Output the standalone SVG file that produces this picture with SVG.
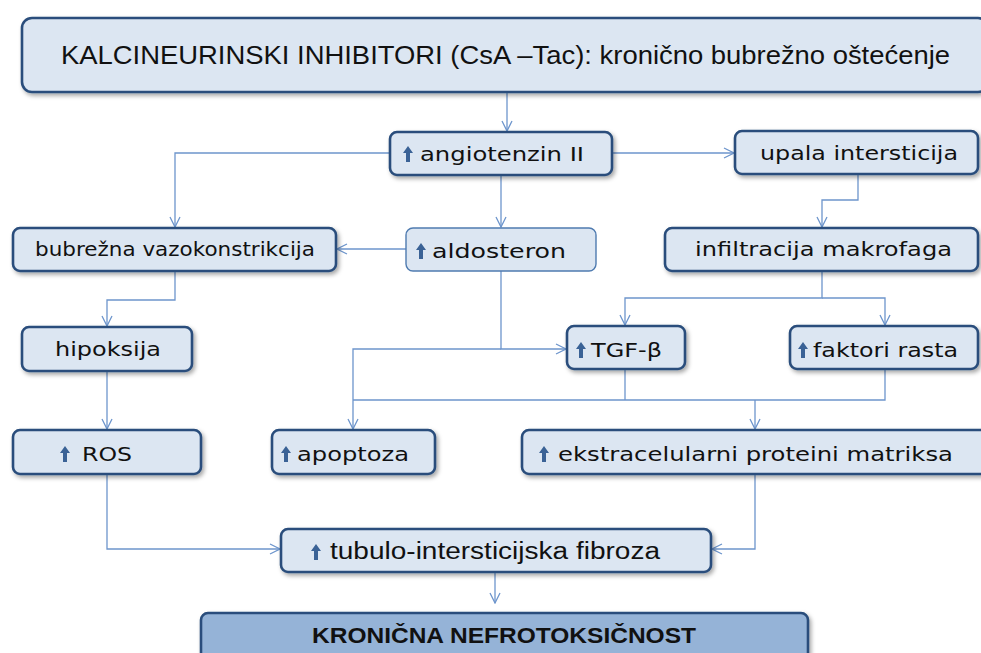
<svg xmlns="http://www.w3.org/2000/svg" width="981" height="653" viewBox="0 0 981 653">
<defs>
<style>
.box{fill:#dce6f2;stroke:#2a4e7c;stroke-width:2.6}
.box2{fill:#dce6f2;stroke:#4f7bb0;stroke-width:1.4}
.dark{fill:#95b3d7;stroke:#2a4e7c;stroke-width:2.6}
.t{font-family:"DejaVu Sans",Verdana,sans-serif;font-size:20px;fill:#111}
.c{font-family:"Liberation Sans",Arial,sans-serif;fill:#111}
.up{fill:#3a6296}
.ln{fill:none;stroke:#6d95cc;stroke-width:1.3}
</style>
<filter id="sh" x="-10%" y="-20%" width="125%" height="150%">
<feDropShadow dx="2" dy="2.5" stdDeviation="2.2" flood-color="#000" flood-opacity="0.35"/>
</filter>
<marker id="ar" viewBox="0 0 12 12" refX="11" refY="6" markerWidth="12" markerHeight="12" markerUnits="userSpaceOnUse" orient="auto">
<path d="M1,1 L11,6 L1,11" fill="none" stroke="#6d95cc" stroke-width="1.3"/>
</marker>
<polygon id="upa" points="0,-16 5,-9 2,-9 2,0 -2,0 -2,-9 -5,-9"/>
</defs>
<rect width="981" height="653" fill="#fff"/>

<g id="connectors">
<path class="ln" d="M507,92 V131" marker-end="url(#ar)"/>
<path class="ln" d="M612,153 H734" marker-end="url(#ar)"/>
<path class="ln" d="M390,153 H175 V227" marker-end="url(#ar)"/>
<path class="ln" d="M501,175 V227" marker-end="url(#ar)"/>
<path class="ln" d="M406,249 H337" marker-end="url(#ar)"/>
<path class="ln" d="M858,174 V200 H822 V227" marker-end="url(#ar)"/>
<path class="ln" d="M822,271 V298 H625 V325" marker-end="url(#ar)"/>
<path class="ln" d="M822,298 H885 V325" marker-end="url(#ar)"/>
<path class="ln" d="M175,271 V300 H107 V326" marker-end="url(#ar)"/>
<path class="ln" d="M107,371 V429" marker-end="url(#ar)"/>
<path class="ln" d="M501,271 V349 H566" marker-end="url(#ar)"/>
<path class="ln" d="M501,349 H353 V429" marker-end="url(#ar)"/>
<path class="ln" d="M353,400 H885 V369"/>
<path class="ln" d="M625,369 V400"/>
<path class="ln" d="M755,400 V429" marker-end="url(#ar)"/>
<path class="ln" d="M107,474 V549 H280" marker-end="url(#ar)"/>
<path class="ln" d="M755,474 V549 H712" marker-end="url(#ar)"/>
<path class="ln" d="M495,572 V603" marker-end="url(#ar)"/>
</g>

<g id="n-kalcineurin">
<rect class="box" x="22" y="18" width="966" height="74" rx="10" filter="url(#sh)"/>
<text class="c" x="61" y="64" font-size="25" textLength="889" lengthAdjust="spacingAndGlyphs">KALCINEURINSKI INHIBITORI (CsA –Tac): kronično bubrežno oštećenje</text>
</g>

<g id="n-angiotenzin">
<rect class="box" x="390" y="132" width="222" height="43" rx="7" filter="url(#sh)"/>
<use href="#upa" class="up" x="408" y="162"/>
<text class="t" x="420" y="161" font-size="21" textLength="164" lengthAdjust="spacingAndGlyphs">angiotenzin II</text>
</g>

<g id="n-upala">
<rect class="box" x="735" y="131" width="243" height="43" rx="7" filter="url(#sh)"/>
<text class="t" x="760" y="160" font-size="21" textLength="198" lengthAdjust="spacingAndGlyphs">upala intersticija</text>
</g>

<g id="n-vazokonstrikcija">
<rect class="box" x="13" y="228" width="323" height="43" rx="7" filter="url(#sh)"/>
<text class="t" x="35" y="256" textLength="280" lengthAdjust="spacingAndGlyphs">bubrežna vazokonstrikcija</text>
</g>

<g id="n-aldosteron">
<rect class="box2" x="406" y="228" width="190" height="43" rx="7"/>
<use href="#upa" class="up" x="421" y="259"/>
<text class="t" x="432" y="258" font-size="21" textLength="134" lengthAdjust="spacingAndGlyphs">aldosteron</text>
</g>

<g id="n-infiltracija">
<rect class="box" x="665" y="228" width="313" height="43" rx="7" filter="url(#sh)"/>
<text class="t" x="695" y="256" font-size="21" textLength="257" lengthAdjust="spacingAndGlyphs">infiltracija makrofaga</text>
</g>

<g id="n-hipoksija">
<rect class="box" x="22" y="327" width="170" height="44" rx="7" filter="url(#sh)"/>
<text class="t" x="55" y="356" textLength="106" lengthAdjust="spacingAndGlyphs">hipoksija</text>
</g>

<g id="n-tgf">
<rect class="box" x="567" y="326" width="118" height="43" rx="7" filter="url(#sh)"/>
<use href="#upa" class="up" x="581" y="358"/>
<text class="t" x="591" y="357" font-size="21" textLength="71" lengthAdjust="spacingAndGlyphs">TGF-β</text>
</g>

<g id="n-faktori">
<rect class="box" x="790" y="326" width="188" height="43" rx="7" filter="url(#sh)"/>
<use href="#upa" class="up" x="803" y="358"/>
<text class="t" x="813" y="357" font-size="21" textLength="145" lengthAdjust="spacingAndGlyphs">faktori rasta</text>
</g>

<g id="n-ros">
<rect class="box" x="13" y="430" width="188" height="44" rx="7" filter="url(#sh)"/>
<use href="#upa" class="up" x="65" y="462"/>
<text class="t" x="82" y="461" font-size="21" textLength="50" lengthAdjust="spacingAndGlyphs">ROS</text>
</g>

<g id="n-apoptoza">
<rect class="box" x="272" y="430" width="163" height="44" rx="7" filter="url(#sh)"/>
<use href="#upa" class="up" x="286" y="462"/>
<text class="t" x="297" y="461" font-size="21" textLength="112" lengthAdjust="spacingAndGlyphs">apoptoza</text>
</g>

<g id="n-ekstracelularni">
<rect class="box" x="522" y="430" width="466" height="44" rx="7" filter="url(#sh)"/>
<use href="#upa" class="up" x="544" y="462"/>
<text class="t" x="558" y="461" font-size="21" textLength="395" lengthAdjust="spacingAndGlyphs">ekstracelularni proteini matriksa</text>
</g>

<g id="n-fibroza">
<rect class="box" x="281" y="529" width="430" height="43" rx="7" filter="url(#sh)"/>
<use href="#upa" class="up" x="316" y="560"/>
<text class="c" x="330" y="559" font-size="23" textLength="330" lengthAdjust="spacingAndGlyphs">tubulo-intersticijska fibroza</text>
</g>

<g id="n-kronicna">
<rect class="dark" x="201" y="613" width="607" height="50" rx="7" filter="url(#sh)"/>
<text class="c" x="312" y="643" font-size="22" font-weight="bold" textLength="384" lengthAdjust="spacingAndGlyphs">KRONIČNA NEFROTOKSIČNOST</text>
</g>
</svg>
